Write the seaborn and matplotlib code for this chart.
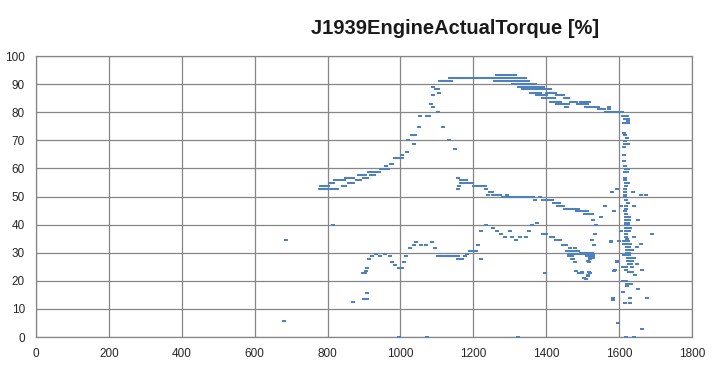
import numpy as np
import pandas as pd
import matplotlib
matplotlib.use("Agg")
import matplotlib.pyplot as plt
import seaborn as sns

# single markers (speed, torque)
upper_pts = [(820, 56), (887, 57.7), (961, 61), (1005, 64.9), (1019, 66), (1036, 68.8),
             (1022, 70), (1031, 72), (1041, 72), (1051, 74.9), (1055, 78.8), (1103, 79.9),
             (1088, 82), (1084, 83.1), (1088, 86), (1105, 87), (1088, 88.8), (1411, 88.1),
             (1516, 83.8), (1513, 83.1), (1573, 82), (1571, 81), (1117, 74.9), (1134, 70),
             (1151, 67)]
mid_pts = [(1159, 56.7), (1165, 56), (1160, 53.8), (1157, 52.7), (1236, 52.7), (1241, 50.6),
           (1291, 50.6), (1382, 49.9), (1370, 48.8), (1415, 48.8), (1420, 47.7), (1487, 45.6),
           (1528, 41.7), (1536, 39.9), (1533, 36.7), (1526, 34.5), (1531, 32.7),
           (1561, 46.7), (1550, 42.7), (1577, 33.8), (1586, 44.9), (1580, 51.7), (1594, 52.7),
           (1593, 26.7), (1587, 23.5), (1583, 13.3), (1606, 46.7), (1641, 46.7), (1639, 51.7),
           (1659, 50.6), (1675, 50.6), (1690, 36.7), (1652, 41.7), (1640, 35.6)]
column_pts = [(1625, 77), (1614, 72.7), (1617, 72), (1622, 71), (1617, 69.9), (1614, 67.5),
              (1614, 64.9), (1614, 62.7), (1617, 61), (1617, 56.7), (1617, 56), (1620, 53.8),
              (1617, 52.7), (1617, 51.7), (1617, 50.6), (1617, 49.9), (1619, 48.8), (1623, 47.7),
              (1620, 46.7), (1620, 45.6), (1617, 44.9), (1620, 43.8), (1606, 37.7), (1620, 36.7),
              (1620, 35.6), (1622, 34.9), (1578, 34.2), (1600, 34.2), (1612, 33.1), (1660, 33.1),
              (1648, 32), (1612, 29.2), (1514, 27), (1595, 27), (1648, 26), (1611, 24.9),
              (1620, 24.9), (1634, 24.9), (1589, 23.8), (1620, 23.8), (1662, 23.8), (1497, 23.1),
              (1518, 23.1), (1514, 22), (1644, 22), (1503, 21), (1611, 19.9), (1620, 19.9),
              (1622, 18.8), (1632, 18.8), (1622, 18.1), (1651, 17), (1610, 16), (1583, 13.8),
              (1630, 13.8), (1676, 13.8), (1617, 12), (1630, 12), (1596, 4.9), (1662, 2.7),
              (1620, 0), (1640, 0)]
low_pts = [(1182, 29.5), (1176, 28.8), (1214, 32.7), (1222, 27.7), (1220, 37.7), (1266, 37.7),
           (1300, 37.7), (1236, 39.9), (1360, 39.9), (1253, 38.8), (1275, 36.7), (1286, 35.6),
           (1305, 35.6), (1327, 35.6), (1344, 35.6), (1316, 34.5), (1426, 34.5), (1437, 34.5),
           (1352, 37.7), (1376, 40.6), (1464, 31.7), (1479, 31.7), (1487, 30.6), (1478, 26.7),
           (1517, 26.7), (1520, 27.7), (1481, 23.5), (1519, 22.7), (1396, 22.7), (1515, 21.7),
           (1508, 20.6),
           (687, 34.6), (816, 40), (681, 5.8), (870, 12.5), (907, 15.7), (905, 23.5), (907, 24.6),
           (914, 27.8), (922, 28.9), (934, 29.6), (945, 28.9), (959, 29.6), (970, 28.9),
           (978, 26.7), (986, 25.7), (1009, 26.7), (1014, 28.9), (1025, 31.7), (1036, 32.8),
           (1044, 33.8), (1056, 32.8), (1070, 32.8), (1086, 33.8), (1095, 31.7), (1160, 27.8),
           (995, 0), (1073, 0), (1323, 0)]

# runs of markers at one torque level: (torque, first speed, last speed)
runs = [(52.7, 779, 826), (53.8, 781, 802), (53.8, 843, 847), (54.9, 806, 816), (54.9, 860, 869),
        (56.0, 832, 844), (56.0, 880, 888), (56.7, 850, 869), (56.7, 900, 909), (57.7, 897, 902),
        (57.7, 920, 927), (58.8, 915, 918), (58.8, 931, 941), (59.9, 948, 965), (61.7, 975, 978),
        (63.8, 984, 1003), (78.8, 1073, 1077), (88.1, 1098, 1103), (91.0, 1109, 1139),
        (92.0, 1135, 1343), (93.1, 1264, 1315), (91.0, 1259, 1351), (89.9, 1310, 1370),
        (88.8, 1325, 1390), (88.1, 1335, 1400), (87.0, 1357, 1384), (87.0, 1403, 1425),
        (86.0, 1374, 1400), (86.0, 1429, 1445), (84.9, 1390, 1421), (84.9, 1451, 1461),
        (83.8, 1412, 1439), (83.8, 1467, 1483), (83.8, 1496, 1505), (83.1, 1429, 1459),
        (83.1, 1486, 1500), (82.0, 1453, 1456), (82.0, 1508, 1541), (81.0, 1544, 1559),
        (79.9, 1564, 1609), (78.8, 1611, 1622), (77.7, 1615, 1625), (76.0, 1614, 1625),
        (68.8, 1617, 1625), (59.9, 1620, 1624), (58.8, 1617, 1622), (54.9, 1620, 1624),
        (56.0, 1178, 1181), (54.9, 1165, 1173), (54.9, 1185, 1195), (53.8, 1203, 1231),
        (51.7, 1247, 1250), (50.6, 1255, 1272), (49.9, 1280, 1346), (49.9, 1357, 1363),
        (48.8, 1390, 1404), (47.7, 1426, 1434), (46.7, 1431, 1445), (45.6, 1451, 1478),
        (44.9, 1485, 1511), (43.8, 1507, 1525), (42.7, 1618, 1626), (41.7, 1618, 1626),
        (40.6, 1619, 1624), (39.9, 1619, 1624), (38.8, 1619, 1630), (37.7, 1620, 1628),
        (34.2, 1614, 1625), (33.1, 1622, 1630), (32.0, 1622, 1628), (30.9, 1622, 1636),
        (29.9, 1496, 1526), (29.9, 1621, 1628), (29.2, 1514, 1527), (29.2, 1624, 1628),
        (28.1, 1519, 1527), (28.1, 1625, 1640), (27.0, 1624, 1634), (26.0, 1628, 1633),
        (23.1, 1628, 1634), (28.8, 1110, 1116), (28.8, 1126, 1137), (28.8, 1148, 1157),
        (30.6, 1190, 1206), (27.7, 1159, 1170), (36.7, 1390, 1399), (35.6, 1412, 1418),
        (32.7, 1445, 1454), (30.6, 1456, 1476), (29.5, 1462, 1528), (28.8, 1462, 1472),
        (28.8, 1512, 1528), (27.7, 1470, 1473), (22.7, 1489, 1498), (13.6, 901, 909),
        (22.8, 898, 903), (24.6, 995, 1003), (28.9, 1103, 1159)]

x_ticks = list(range(0, 2000, 200))
y_ticks = list(range(0, 110, 10))

blue = "#4F81BD"
grid_col = "#868686"

pts = pd.DataFrame(upper_pts + mid_pts + column_pts + low_pts, columns=["speed", "torque"])
run_df = pd.DataFrame(runs, columns=["torque", "x0", "x1"])
ends = pd.concat([run_df[["x0", "torque"]].rename(columns={"x0": "speed"}),
                  run_df[["x1", "torque"]].rename(columns={"x1": "speed"})])
allpts = pd.concat([pts, ends], ignore_index=True)

sns.set_style("white")
plt.rcParams['font.family'] = ['Liberation Sans', 'DejaVu Sans']

fig = plt.figure(figsize=(7.19, 3.69), dpi=100)
ax = fig.add_axes([0.050, 0.0867, 0.9125, 0.7615])

# dash-like marker (wider than tall)
dash = [(-1, -0.6), (1, -0.6), (1, 0.6), (-1, 0.6)]
ax.hlines(run_df["torque"], run_df["x0"], run_df["x1"], colors=blue, linewidth=1.5, zorder=3)
sns.scatterplot(data=allpts, x="speed", y="torque", marker=dash, s=7, color=blue,
                linewidth=0, ax=ax, zorder=4)

ax.set_xlim(0, 1800)
ax.set_ylim(0, 100)
ax.set_xticks(x_ticks)
ax.set_yticks(y_ticks)
ax.grid(True, color=grid_col, linewidth=0.9)
ax.set_axisbelow(True)
for sp in ax.spines.values():
    sp.set_color(grid_col)
    sp.set_linewidth(0.9)
ax.tick_params(length=4, color=grid_col, width=0.9, labelsize=8.5, labelcolor="#262626", pad=4)
ax.set_xlabel("")
ax.set_ylabel("")

fig.text(0.633, 0.922, "J1939EngineActualTorque [%]", ha="center", va="center",
         fontsize=14.5, fontweight="bold", color="#1a1a1a")

fig.savefig("out.png", dpi=100)
